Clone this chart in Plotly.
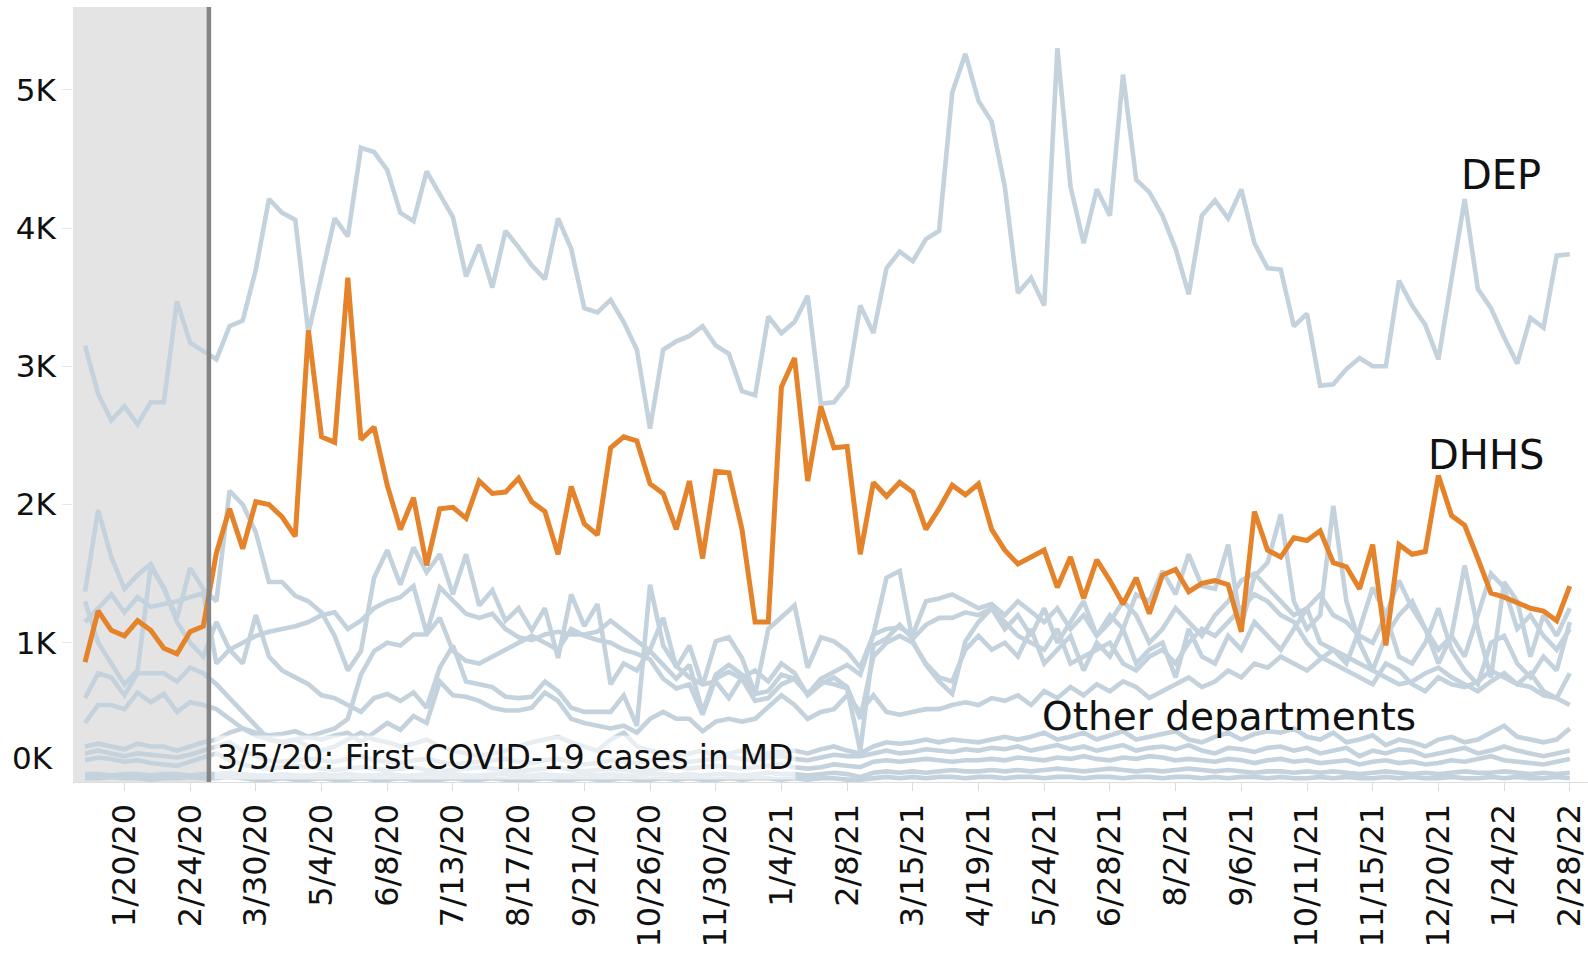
import pandas as pd
import plotly.graph_objects as go

# ---------------- data (weekly, in thousands) ----------------
first_week = "2019-12-30"
n_weeks = 114
weeks = pd.date_range(first_week, periods=n_weeks, freq="7D")

dep_k = [3.15, 2.80, 2.61, 2.71, 2.58, 2.74, 2.74, 3.47, 3.17, 3.11,
         3.05, 3.29, 3.33, 3.70, 4.21, 4.11, 4.06, 3.24, 3.65, 4.07,
         3.94, 4.58, 4.55, 4.42, 4.11, 4.05, 4.41, 4.24, 4.08, 3.65,
         3.88, 3.57, 3.98, 3.86, 3.73, 3.63, 4.07, 3.85, 3.42, 3.39,
         3.48, 3.32, 3.12, 2.55, 3.12, 3.18, 3.22, 3.29, 3.15, 3.09,
         2.82, 2.79, 3.36, 3.24, 3.32, 3.51, 2.73, 2.74, 2.86, 3.44,
         3.24, 3.71, 3.83, 3.76, 3.92, 3.98, 4.98, 5.26, 4.92, 4.77,
         4.30, 3.53, 3.64, 3.44, 5.30, 4.30, 3.89, 4.28, 4.09, 5.11,
         4.35, 4.26, 4.09, 3.85, 3.52, 4.09, 4.20, 4.07, 4.28, 3.89,
         3.71, 3.70, 3.29, 3.38, 2.86, 2.87, 2.98, 3.06, 3.00, 3.00,
         3.62, 3.44, 3.30, 3.05, 3.64, 4.21, 3.56, 3.42, 3.21, 3.02,
         3.35, 3.28, 3.80, 3.81]

dhhs_k = [0.86, 1.23, 1.09, 1.05, 1.16, 1.09, 0.96, 0.92, 1.08, 1.12,
          1.65, 1.97, 1.68, 2.02, 2.00, 1.91, 1.77, 3.26, 2.49, 2.45,
          3.64, 2.47, 2.56, 2.14, 1.82, 2.05, 1.56, 1.97, 1.98, 1.90,
          2.17, 2.08, 2.09, 2.19, 2.02, 1.95, 1.64, 2.13, 1.86, 1.78,
          2.41, 2.49, 2.46, 2.15, 2.08, 1.82, 2.17, 1.61, 2.24, 2.23,
          1.82, 1.15, 1.15, 2.85, 3.06, 2.17, 2.71, 2.41, 2.42, 1.64,
          2.16, 2.06, 2.16, 2.09, 1.82, 1.97, 2.14, 2.07, 2.15, 1.82,
          1.67, 1.57, 1.62, 1.67, 1.40, 1.62, 1.32, 1.60, 1.45, 1.28,
          1.47, 1.21, 1.49, 1.53, 1.37, 1.43, 1.45, 1.42, 1.08, 1.95,
          1.67, 1.62, 1.76, 1.74, 1.81, 1.58, 1.55, 1.39, 1.71, 0.98,
          1.71, 1.64, 1.66, 2.21, 1.92, 1.85, 1.61, 1.36, 1.33, 1.29,
          1.25, 1.23, 1.16, 1.41]

other1_k = [1.37, 1.96, 1.62, 1.39, 1.49, 1.57, 1.39, 1.18, 1.54, 1.39,
            1.30, 2.10, 2.00, 1.80, 1.44, 1.44, 1.34, 1.30, 1.22, 1.05, 0.80,
            0.94, 1.47, 1.67, 1.42, 1.69, 1.51, 1.64, 1.35, 1.64, 1.27, 1.38, 1.16, 1.25, 1.09, 1.25, 0.89, 1.35, 1.12, 1.28, 0.70,
            0.85, 0.80, 0.95,
            1.18, 0.82, 0.98, 0.69, 1.01, 1.04, 0.89, 0.63, 1.10, 1.18, 1.27, 0.82, 1.04, 1.01, 0.94, 0.82, 1.06, 1.47, 1.52, 1.01, 0.84, 0.72, 0.63, 1.01,
            1.15, 1.25, 1.10, 1.20, 1.05, 1.25, 1.00, 1.15, 1.30, 1.05, 1.20, 1.10, 1.35, 1.30,
            1.52, 1.35, 1.64, 1.41, 1.39, 1.71, 1.12, 1.48, 1.58, 1.93,
            1.30, 1.10, 1.20, 1.99, 1.30, 1.00, 0.80, 1.05, 1.20, 1.30, 1.10, 0.85, 1.05, 1.56, 1.10, 0.75, 1.44, 1.30, 0.90, 1.20, 1.05, 1.25]

other2_k = [1.15, 1.25, 1.35, 1.22, 1.33, 1.26, 1.28, 1.30, 1.33, 1.36,
            0.85, 0.95, 1.00, 1.05, 1.08, 1.10, 1.12, 1.15, 1.20, 1.22, 1.10,
            1.16, 1.25, 1.30, 1.33, 1.41, 1.07, 1.40, 1.30, 1.21, 1.18, 1.21, 1.10, 1.04, 1.02, 1.06, 1.08, 1.06, 1.06, 1.08, 1.16, 1.09, 1.02, 0.94,
            0.84, 0.74, 0.84, 0.50, 0.77, 0.84, 0.77, 0.63, 0.65, 0.77, 0.74, 0.63, 0.74, 0.79, 0.84, 0.77, 1.06, 1.10, 1.11, 1.06, 1.30, 1.32, 1.35, 1.30,
            1.25, 1.28, 1.20, 1.30, 1.22, 1.15, 1.25, 1.10, 1.20, 1.05, 1.15, 1.30, 1.20, 1.00, 1.10, 1.25, 1.15, 1.05, 1.20, 1.30, 1.45, 1.50, 1.40,
            1.30, 1.20, 1.25, 1.35, 1.20, 1.15, 1.05, 1.00, 1.20, 1.45, 1.25, 1.10, 0.95, 1.05, 0.90, 1.20, 1.50, 1.40, 1.10, 1.20, 1.05, 0.95, 1.10]

other3_k = [1.30, 1.00, 0.85, 0.70, 0.80, 1.55, 1.40, 1.15, 1.00, 0.90,
            1.15, 0.95, 0.85, 1.20, 0.90, 0.80, 0.75, 0.70, 0.62, 0.60, 0.55,
            0.50, 0.60, 0.63, 0.58, 0.64, 0.53, 0.82, 0.98, 0.72, 0.70, 0.68, 0.61, 0.60, 0.61, 0.72, 0.65, 0.53, 0.50, 0.50, 0.50, 0.62, 0.40, 1.42,
            0.98, 0.83, 0.75, 0.70, 0.72, 0.60, 0.75, 0.80, 0.72, 0.85, 0.78, 0.62, 0.70, 0.75, 0.68, 0.45, 0.90, 1.00, 1.05, 1.00, 0.85, 0.75, 0.72, 0.95,
            1.05, 0.95, 1.00, 0.90, 1.10, 0.85, 0.95, 1.05, 0.80, 1.00, 0.90, 1.10, 0.85, 0.95, 1.00, 0.75, 1.10, 0.90, 0.85, 1.05, 0.95, 1.15, 1.05,
            0.95, 1.10, 1.25, 1.00, 0.95, 0.85, 1.10, 1.40, 1.20, 0.90, 0.85, 1.00, 1.25, 0.95, 0.80, 0.70, 1.00, 1.05, 0.85, 0.75, 0.90, 0.80, 1.15]

other4_k = [0.60, 0.78, 0.75, 0.62, 0.78, 0.78, 0.78, 0.72, 0.82, 0.78,
            0.70, 0.60, 0.50, 0.40, 0.30, 0.28, 0.30, 0.32, 0.35, 0.38, 0.45,
            0.77, 0.94, 1.00, 0.98, 1.06, 1.06, 1.18, 0.94, 0.87, 0.85, 0.90, 0.95, 1.00, 1.05, 1.00, 0.95, 1.10, 1.05, 1.02, 1.00, 0.95, 0.92, 0.88,
            0.74, 0.67, 0.70, 0.48, 0.74, 0.79, 0.74, 0.58, 0.60, 0.70, 0.74, 0.63, 0.72, 0.70, 0.67, 0.22, 0.98, 1.03, 1.13, 1.03, 1.13, 1.18, 1.18, 1.22,
            1.20, 1.25, 1.15, 1.05, 1.00, 0.95, 1.10, 0.85, 0.90, 0.95, 1.00, 0.85, 0.80, 0.90, 0.95, 0.85, 1.00, 1.10, 1.05, 1.15, 1.25, 1.35, 1.30,
            1.20, 1.15, 1.00, 0.90, 0.85, 0.80, 0.75, 0.70, 0.85, 0.80, 0.70, 0.65, 0.75, 0.70, 0.68, 0.72, 0.80, 0.75, 0.70, 0.78, 0.65, 0.60, 0.78]

other5_k = [0.42, 0.55, 0.55, 0.52, 0.64, 0.57, 0.63, 0.50, 0.57, 0.55,
            0.52, 0.45, 0.38, 0.35, 0.33, 0.34, 0.36, 0.32, 0.30, 0.33, 0.35,
            0.28, 0.35, 0.42, 0.37, 0.47, 0.42, 0.72, 0.62, 0.61, 0.58, 0.53, 0.51, 0.51, 0.53, 0.64, 0.58, 0.45, 0.42, 0.40, 0.38, 0.40, 0.35, 0.45,
            0.50, 0.45, 0.45, 0.36, 0.43, 0.45, 0.43, 0.45, 0.53, 0.62, 0.55, 0.45, 0.50, 0.52, 0.62, 0.50, 0.62, 0.50, 0.48, 0.50, 0.52, 0.52, 0.55, 0.57,
            0.55, 0.60, 0.58, 0.62, 0.55, 0.65, 0.60, 0.68, 0.62, 0.70, 0.65, 0.72, 0.68, 0.60, 0.65, 0.70, 0.75, 0.68, 0.72, 0.80, 0.75, 0.85, 0.82,
            0.90, 0.85, 0.80, 0.88, 0.95, 0.90, 0.85, 0.80, 0.75, 0.70, 0.72, 0.78, 0.82, 0.75, 0.70, 0.65, 0.72, 0.78, 0.70, 0.68, 0.62, 0.60, 0.55]

other6_k = [0.25, 0.27, 0.25, 0.23, 0.27, 0.25, 0.25, 0.22, 0.25, 0.28,
            0.30, 0.35, 0.38, 0.33, 0.30, 0.28, 0.30, 0.25, 0.22, 0.25, 0.30, 0.35, 0.30, 0.28, 0.25, 0.27, 0.30, 0.25, 0.22, 0.20, 0.18, 0.20, 0.22, 0.25, 0.28, 0.30, 0.32, 0.28, 0.25, 0.22, 0.30, 0.35, 0.25, 0.22,
            0.20, 0.18, 0.20, 0.22, 0.18, 0.20, 0.22, 0.18, 0.20, 0.21, 0.22, 0.20, 0.23, 0.25, 0.22, 0.20, 0.25, 0.28, 0.27, 0.28, 0.30, 0.28, 0.30, 0.29,
            0.28, 0.30, 0.32, 0.30, 0.32, 0.35, 0.30, 0.32, 0.35, 0.30, 0.33, 0.36, 0.30, 0.32, 0.34, 0.36, 0.30, 0.28, 0.32, 0.35, 0.30, 0.34, 0.36,
            0.35, 0.38, 0.32, 0.30, 0.35, 0.28, 0.30, 0.33, 0.26, 0.30, 0.28, 0.25, 0.30, 0.32, 0.28, 0.30, 0.35, 0.40, 0.32, 0.30, 0.28, 0.30, 0.38]

other7_k = [0.20, 0.22, 0.20, 0.18, 0.20, 0.19, 0.18, 0.17, 0.19, 0.22,
            0.25, 0.28, 0.22, 0.18, 0.15, 0.14, 0.15, 0.16, 0.15, 0.14, 0.16, 0.18, 0.15, 0.14, 0.13, 0.15, 0.16, 0.14, 0.12, 0.13, 0.14, 0.15, 0.16, 0.14, 0.13, 0.15, 0.16, 0.14, 0.12, 0.13, 0.15, 0.14, 0.13, 0.15,
            0.16, 0.15, 0.14, 0.15, 0.16, 0.18, 0.16, 0.15, 0.17, 0.18, 0.16, 0.15, 0.17, 0.19, 0.18, 0.18, 0.20, 0.22, 0.20, 0.21, 0.23, 0.22, 0.21, 0.23,
            0.22, 0.24, 0.23, 0.25, 0.22, 0.24, 0.26, 0.23, 0.25, 0.22, 0.24, 0.26, 0.22, 0.24, 0.25, 0.23, 0.26, 0.22, 0.20, 0.24, 0.23, 0.21, 0.24,
            0.25, 0.22, 0.24, 0.20, 0.22, 0.24, 0.18, 0.22, 0.20, 0.23, 0.22, 0.18, 0.20, 0.22, 0.24, 0.20, 0.22, 0.25, 0.22, 0.20, 0.18, 0.20, 0.22]

other8_k = [0.15, 0.17, 0.16, 0.14, 0.15, 0.13, 0.12, 0.11, 0.14, 0.17,
            0.20, 0.15, 0.12, 0.10, 0.09, 0.10, 0.11, 0.10, 0.09, 0.08, 0.09, 0.10, 0.09, 0.08, 0.09, 0.10, 0.08, 0.07, 0.08, 0.09, 0.10, 0.09, 0.08, 0.07, 0.08, 0.09, 0.10, 0.08, 0.07, 0.08, 0.09, 0.08, 0.07, 0.08,
            0.09, 0.10, 0.09, 0.10, 0.11, 0.10, 0.09, 0.10, 0.11, 0.12, 0.10, 0.09, 0.10, 0.12, 0.11, 0.10, 0.14, 0.15, 0.14, 0.15, 0.16, 0.15, 0.14, 0.15,
            0.15, 0.16, 0.15, 0.17, 0.16, 0.15, 0.17, 0.16, 0.18, 0.16, 0.15, 0.17, 0.16, 0.18, 0.17, 0.15, 0.16, 0.15, 0.14, 0.16, 0.15, 0.13, 0.15,
            0.16, 0.14, 0.15, 0.13, 0.14, 0.15, 0.12, 0.14, 0.15, 0.13, 0.14, 0.12, 0.13, 0.15, 0.14, 0.16, 0.18, 0.15, 0.14, 0.13, 0.12, 0.14, 0.16]

other9_k = [0.05, 0.05, 0.04, 0.05, 0.05, 0.04, 0.05, 0.05, 0.04, 0.05,
            0.05, 0.06, 0.05, 0.04, 0.04, 0.05, 0.04, 0.04, 0.05, 0.04, 0.05, 0.04, 0.04, 0.05, 0.04, 0.04, 0.05, 0.04, 0.05, 0.04, 0.04, 0.05, 0.05, 0.04, 0.04, 0.05, 0.04, 0.04, 0.05, 0.04, 0.05, 0.04, 0.04, 0.05,
            0.05, 0.04, 0.05, 0.04, 0.05, 0.05, 0.04, 0.05, 0.06, 0.05, 0.05, 0.04, 0.05, 0.06, 0.05, 0.03, 0.06, 0.07, 0.06, 0.07, 0.06, 0.07, 0.08, 0.07,
            0.07, 0.08, 0.07, 0.08, 0.07, 0.08, 0.09, 0.08, 0.07, 0.08, 0.09, 0.08, 0.07, 0.08, 0.07, 0.08, 0.09, 0.08, 0.07, 0.08, 0.07, 0.06, 0.07,
            0.07, 0.06, 0.07, 0.06, 0.07, 0.06, 0.05, 0.06, 0.07, 0.06, 0.05, 0.06, 0.05, 0.06, 0.07, 0.06, 0.06, 0.07, 0.06, 0.05, 0.06, 0.05, 0.06]

other10_k = [0.02, 0.02, 0.03, 0.02, 0.02, 0.01, 0.02, 0.02, 0.03, 0.02, 0.02, 0.03, 0.02, 0.01, 0.01, 0.02, 0.01, 0.01, 0.02, 0.01,
             0.01, 0.02, 0.01, 0.01, 0.02, 0.01, 0.01, 0.01, 0.02, 0.01, 0.01, 0.02, 0.01, 0.01, 0.01, 0.02, 0.01, 0.01, 0.02, 0.01,
             0.01, 0.02, 0.01, 0.01, 0.02, 0.01, 0.02, 0.01, 0.01, 0.02, 0.01, 0.02, 0.02, 0.01, 0.02, 0.01, 0.02, 0.02, 0.01, 0.01,
             0.02, 0.03, 0.02, 0.03, 0.02, 0.03, 0.03, 0.02, 0.03, 0.03, 0.02, 0.03, 0.03, 0.02, 0.03, 0.03, 0.02, 0.03, 0.03, 0.02,
             0.03, 0.03, 0.02, 0.03, 0.03, 0.02, 0.03, 0.02, 0.03, 0.03, 0.02, 0.03, 0.02, 0.02, 0.03, 0.02, 0.03, 0.02, 0.02, 0.03,
             0.02, 0.03, 0.02, 0.02, 0.03, 0.02, 0.02, 0.03, 0.02, 0.03, 0.02, 0.02, 0.03, 0.02]

other_departments = [other1_k, other2_k, other3_k, other4_k, other5_k,
                     other6_k, other7_k, other8_k, other9_k, other10_k]

tick_labels = ["1/20/20", "2/24/20", "3/30/20", "5/4/20", "6/8/20", "7/13/20",
               "8/17/20", "9/21/20", "10/26/20", "11/30/20", "1/4/21", "2/8/21",
               "3/15/21", "4/19/21", "5/24/21", "6/28/21", "8/2/21", "9/6/21",
               "10/11/21", "11/15/21", "12/20/21", "1/24/22", "2/28/22"]
y_tick_vals = [1000, 2000, 3000, 4000, 5000]
y_tick_labels = ["1K", "2K", "3K", "4K", "5K"]

covid_date = "2020-03-05"
covid_note = "3/5/20: First COVID-19 cases in MD"

for name, s in [("dep", dep_k), ("dhhs", dhhs_k)] + [(f"other{i+1}", s) for i, s in enumerate(other_departments)]:
    if len(s) != n_weeks:
        raise ValueError(f"{name} has {len(s)} values")

# ---------------- figure ----------------
GRAY = "#c3d2dc"
ORANGE = "#e5832b"
FONT = "DejaVu Sans"
TXT = "#111111"

fig = go.Figure()
for s in other_departments:
    fig.add_trace(go.Scatter(x=weeks, y=[v * 1000 for v in s], mode="lines",
                             line=dict(color=GRAY, width=4.6), showlegend=False,
                             hoverinfo="skip"))
fig.add_trace(go.Scatter(x=weeks, y=[v * 1000 for v in dep_k], mode="lines", name="DEP",
                         line=dict(color=GRAY, width=4.6), showlegend=False))
fig.add_trace(go.Scatter(x=weeks, y=[v * 1000 for v in dhhs_k], mode="lines", name="DHHS",
                         line=dict(color=ORANGE, width=5.0), showlegend=False))

x_start = weeks[0] - pd.Timedelta(days=6.4)
x_end = weeks[0] + pd.Timedelta(days=800.7)

fig.add_shape(type="rect", xref="x", yref="paper", x0=x_start, x1=covid_date, y0=0, y1=1,
              fillcolor="#e4e4e4", line_width=0, layer="below")
fig.add_shape(type="line", xref="x", yref="paper", x0=covid_date, x1=covid_date, y0=0, y1=1,
              line=dict(color="#848484", width=4.5), layer="above")

tick_dates = pd.date_range("2020-01-20", periods=len(tick_labels), freq="35D")

fig.update_xaxes(range=[x_start, x_end], tickvals=tick_dates, ticktext=tick_labels,
                 tickangle=-90, tickfont=dict(family=FONT, size=32, color=TXT),
                 showgrid=False, zeroline=False, showline=True, linecolor="#dcdcdc",
                 linewidth=1, ticks="outside", ticklen=8, tickcolor="#dcdcdc",
                 automargin=False, ticklabeloverflow="allow")
fig.update_yaxes(range=[-7, 5599], tickvals=y_tick_vals, ticktext=y_tick_labels,
                 tickfont=dict(family=FONT, size=31, color=TXT),
                 showgrid=False, zeroline=False, showline=False,
                 ticks="outside", ticklen=10, tickcolor="#e8e8e8",
                 automargin=False, ticklabeloverflow="allow")

annotations = [
    dict(text="DEP", x=0.9426, y=0.7832, size=40),
    dict(text="DHHS", x=0.933, y=0.4219, size=40),
    dict(text="Other departments", x=0.763, y=0.0839, size=39),
]
for a in annotations:
    fig.add_annotation(xref="paper", yref="paper", showarrow=False, xanchor="center",
                       yanchor="middle", text=a["text"], x=a["x"], y=a["y"],
                       font=dict(family=FONT, size=a["size"], color=TXT))
fig.add_annotation(xref="paper", yref="paper", showarrow=False, xanchor="right", yanchor="middle",
                   x=-0.012, y=0.031, text="0K", font=dict(family=FONT, size=31, color=TXT))
fig.add_annotation(xref="paper", yref="paper", showarrow=False, xanchor="left", yanchor="middle",
                   x=0.0931, y=0.032, text=covid_note, bgcolor="rgba(255,255,255,0.6)",
                   borderpad=2, font=dict(family=FONT, size=33, color=TXT))

fig.update_layout(width=1588, height=962, margin=dict(l=73, r=0, t=7, b=180),
                  plot_bgcolor="white", paper_bgcolor="white",
                  font=dict(family=FONT, color=TXT), hovermode=False)

# the page's default body margin would offset the figure; remove it
fig.write_html("out.html", config={"displayModeBar": False},
               post_script="document.body.style.margin='0';document.body.style.overflow='hidden';")
